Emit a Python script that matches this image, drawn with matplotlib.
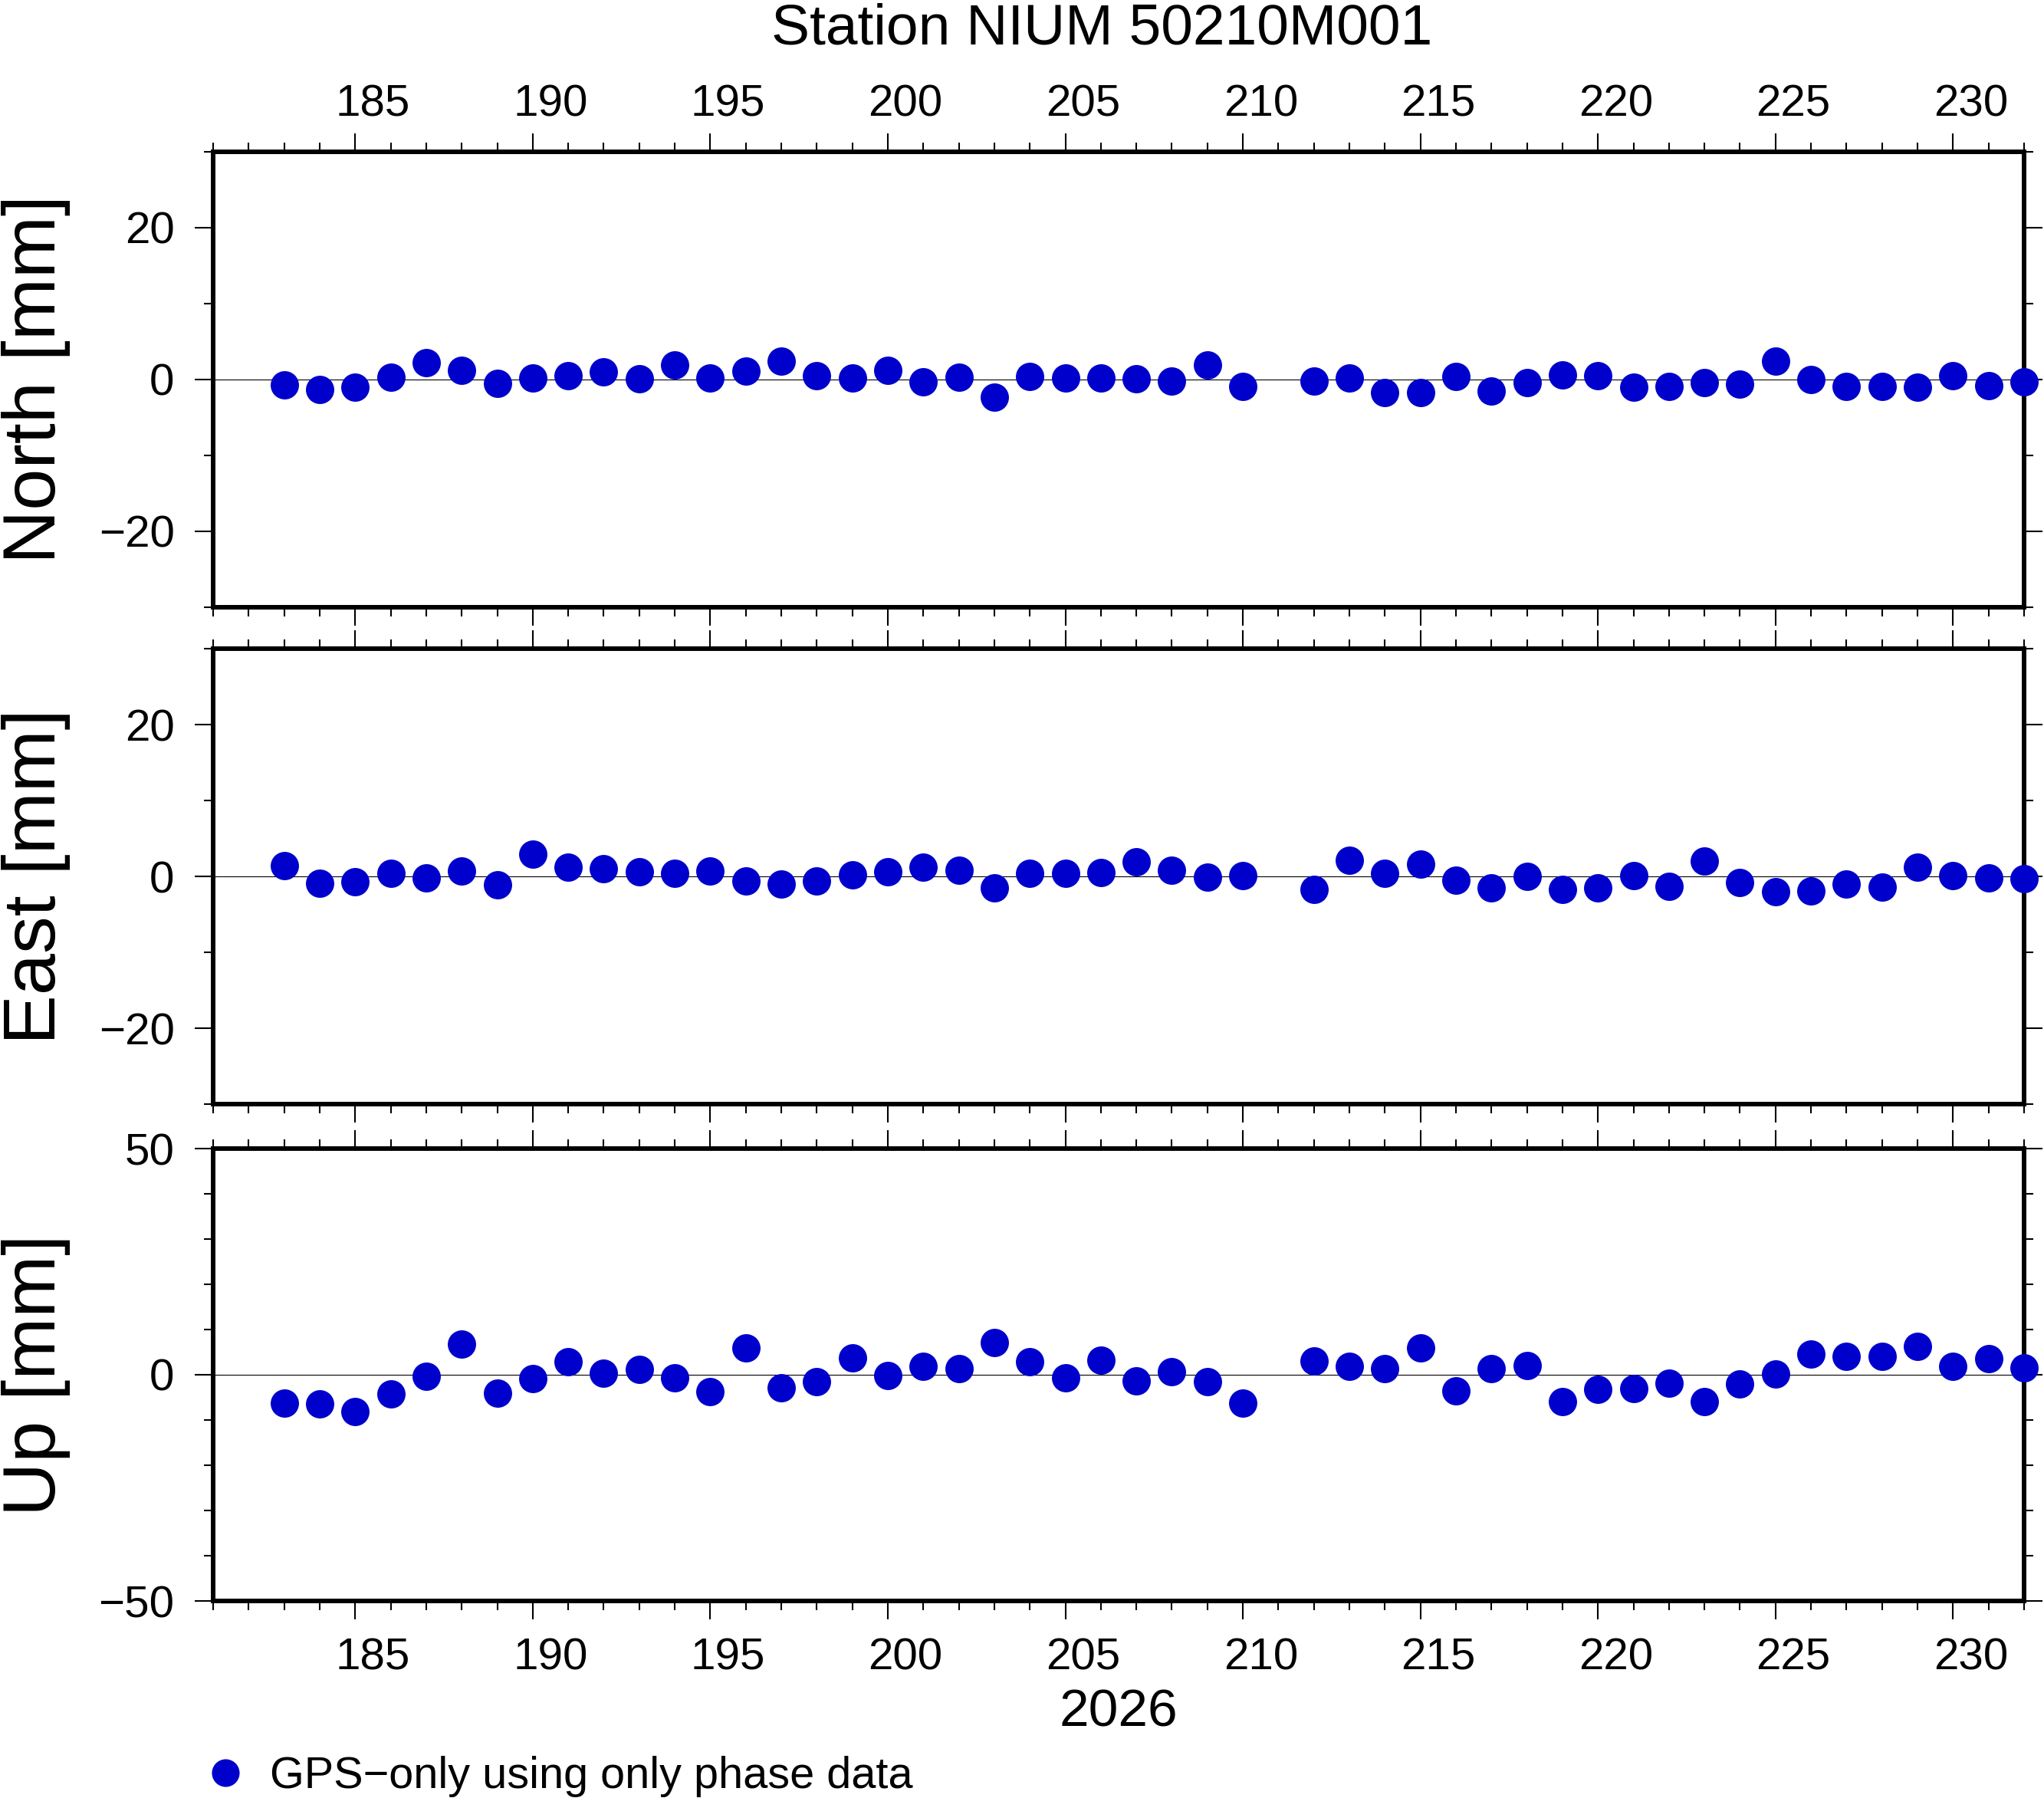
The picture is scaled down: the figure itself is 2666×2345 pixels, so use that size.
import matplotlib
matplotlib.use("Agg")
import matplotlib.pyplot as plt
import matplotlib.transforms as mtransforms
from matplotlib.ticker import MultipleLocator

plt.rcParams['font.family'] = ['Liberation Sans', 'DejaVu Sans']

# day of year 2026 (day 211 missing)
days = list(range(183, 211)) + list(range(212, 233))

north = [-0.7, -1.3, -1.0, 0.3, 2.2, 1.2, -0.5, 0.2, 0.5, 1.0, 0.1, 1.9, 0.2, 1.1,
         2.4, 0.5, 0.2, 1.2, -0.3, 0.3, -2.3, 0.4, 0.2, 0.2, 0.1, -0.2, 1.9, -0.9,
         -0.2, 0.2, -1.7, -1.7, 0.4, -1.5, -0.4, 0.6, 0.5, -1.0, -0.9, -0.4, -0.6,
         2.4, 0.0, -0.9, -0.9, -1.0, 0.5, -0.8, -0.3]
east = [1.4, -0.9, -0.7, 0.4, -0.2, 0.7, -1.1, 2.9, 1.2, 1.0, 0.6, 0.4, 0.7, -0.6,
        -1.0, -0.6, 0.2, 0.6, 1.2, 0.8, -1.5, 0.4, 0.4, 0.5, 1.9, 0.8, -0.1, 0.1,
        -1.7, 2.1, 0.4, 1.6, -0.5, -1.5, 0.0, -1.7, -1.5, 0.1, -1.3, 2.0, -0.8,
        -2.0, -1.9, -1.0, -1.4, 1.2, 0.1, -0.2, -0.3]
up = [-6.2, -6.4, -8.2, -4.2, -0.4, 6.7, -4.0, -0.8, 2.9, 0.4, 1.2, -0.6, -3.7, 6.0,
      -2.8, -1.5, 3.8, -0.1, 1.9, 1.4, 7.2, 2.9, -0.6, 3.3, -1.3, 0.7, -1.6, -6.2,
      3.1, 1.8, 1.4, 6.0, -3.5, 1.4, 2.1, -5.9, -3.3, -3.0, -1.8, -5.9, -2.1, 0.1,
      4.6, 4.1, 4.1, 6.2, 1.8, 3.5, 1.6]

labels = ["North [mm]", "East [mm]", "Up [mm]"]
ylims = [(-30, 30), (-30, 30), (-50, 50)]
ymajor = [20, 20, 50]
series = [north, east, up]
label_days = list(range(185, 231, 5))

title = "Station NIUM 50210M001"
year_label = "2026"
legend_label = "GPS\u2212only using only phase data"
dot_color = "#0000CC"

W, H = 2666, 2345
fig = plt.figure(figsize=(W / 100, H / 100), dpi=100)

# panel boxes in pixels: (top, bottom)
boxes = [(198, 792), (846, 1440), (1498, 2088)]
left_px, right_px = 278, 2640

axes = []
for i, (top, bot) in enumerate(boxes):
    ax = fig.add_axes([left_px / W, 1 - bot / H, (right_px - left_px) / W, (bot - top) / H])
    axes.append(ax)
    ax.set_xlim(181, 232)
    ax.set_ylim(*ylims[i])
    ax.axhline(0, color="k", lw=0.8, zorder=1)
    ax.plot(days, series[i], "o", color=dot_color, ms=26.6, mec="none",
            clip_on=False, zorder=5)
    ax.xaxis.set_major_locator(MultipleLocator(5))
    ax.xaxis.set_minor_locator(MultipleLocator(1))
    ax.yaxis.set_major_locator(MultipleLocator(ymajor[i]))
    ax.yaxis.set_minor_locator(MultipleLocator(10))
    ax.tick_params(which="both", direction="out", top=True, bottom=True,
                   left=True, right=True, width=1.5, labelsize=42,
                   labelbottom=False, labeltop=False, pad=19)
    ax.tick_params(which="major", length=17.3)
    ax.tick_params(which="minor", length=8.6)
    for sp in ax.spines.values():
        sp.set_linewidth(4.3)
    fig.text(47 / W, 1 - (top + bot) / 2 / H, labels[i], rotation=90,
             ha="center", va="center", fontsize=70)

# day labels sit in the middle of each day interval
for ax, ypx in [(axes[0], 151), (axes[2], 2178)]:
    tr = mtransforms.blended_transform_factory(ax.transData, fig.transFigure)
    for d in label_days:
        ax.text(d + 0.5, 1 - ypx / H, str(d), transform=tr, ha="center",
                va="baseline", fontsize=42, clip_on=False)

fig.text(1437 / W, 1 - 57 / H, title, ha="center", va="baseline", fontsize=54)
fig.text(1459 / W, 1 - 2252 / H, year_label, ha="center", va="baseline", fontsize=50)

# legend
fig.lines.append(plt.Line2D([294 / W], [1 - 2312 / H], marker="o", ms=26,
                            color=dot_color, mec="none", transform=fig.transFigure))
fig.text(352 / W, 1 - 2332 / H, legend_label, ha="left", va="baseline", fontsize=41.5)

fig.savefig("out.png", dpi=100)
